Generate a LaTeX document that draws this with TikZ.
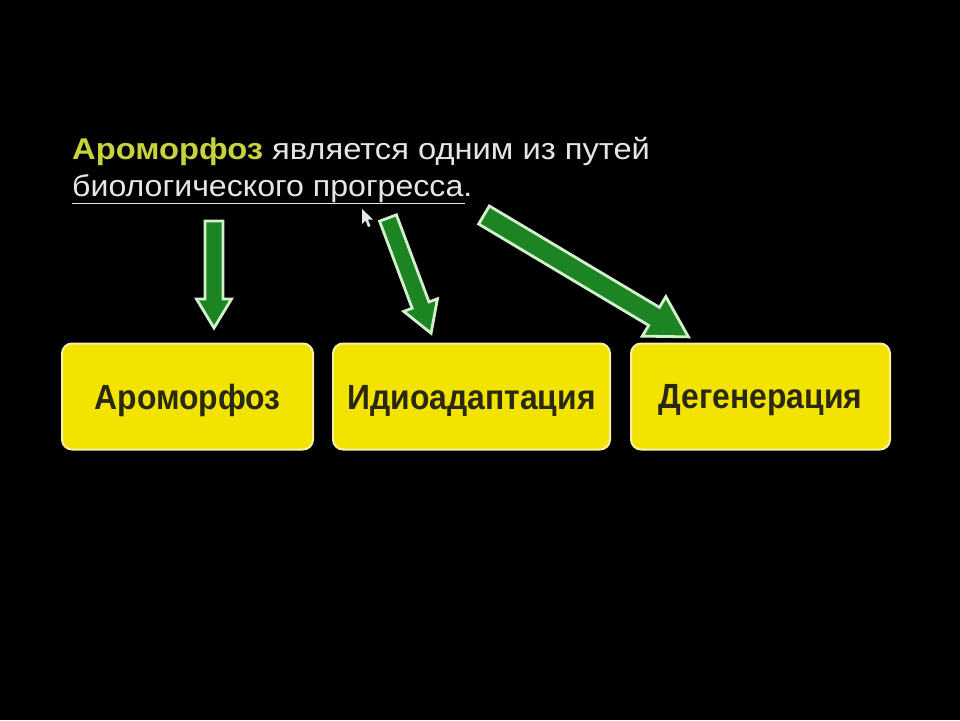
\documentclass[tikz,border=0pt]{standalone}
\usepackage{fontspec}
\setmainfont{Liberation Sans}
\begin{document}
\begin{tikzpicture}[x=1pt,y=-1pt,
  box/.style={draw=boxedge, line width=2pt, fill=boxfill, rounded corners=10pt, minimum height=106pt, inner sep=0pt, text=boxtext, font=\fontsize{35}{40}\selectfont\bfseries},
  blockarrow/.style={fill=arrfill, draw=arredge, line width=2.8pt, line join=miter},
  title/.style={anchor=base west, inner sep=0pt, font=\fontsize{30}{36}\selectfont}]
\definecolor{bg}{HTML}{000000}
\definecolor{boxfill}{HTML}{F2E400}
\definecolor{boxedge}{HTML}{F6F0A8}
\definecolor{boxtext}{HTML}{2A2810}
\definecolor{arrfill}{HTML}{1C8422}
\definecolor{arredge}{HTML}{D2F0CC}
\definecolor{titleyel}{HTML}{C8D23C}
\definecolor{titlewhite}{HTML}{E6E6E6}
\fill[bg] (0,0) rectangle (960,720);
\useasboundingbox (0,0) rectangle (960,720);

% title
\node[title] (t1) at (72,159)
  {\scalebox{1.09}[1]{\textcolor{titleyel}{\bfseries Ароморфоз} \textcolor{titlewhite}{является одним из путей}}};
\node[title, text=titlewhite] (t2) at (72,196)
  {\scalebox{1.07}[1]{биологического прогресса.}};
\coordinate (ul1) at (72,203.5);
\coordinate (ul2) at (465,203.5);
\draw[titlewhite, line width=1.8pt] (ul1) -- (ul2);

% boxes
\node[box, minimum width=251pt] (b1) at (187.5,396.5) {\raisebox{-4pt}[\height][\depth]{\scalebox{0.91}[1]{Ароморфоз}}};
\node[box, minimum width=277pt] (b2) at (471.5,396.5) {\raisebox{-4pt}[\height][\depth]{\scalebox{0.91}[1]{Идиоадаптация}}};
\node[box, minimum width=259pt] (b3) at (760.5,396.5) {\raisebox{-4pt}[\height][\depth]{\scalebox{0.91}[1]{Дегенерация}}};

% block arrows: x, y, angle, length, shaft width, head width, head length
\newcommand{\blockarr}[7]{%
  \begin{scope}[shift={(#1,#2)}, rotate=#3]
    \draw[blockarrow] (0,-#5/2) -- ({#4-#7},-#5/2) -- ({#4-#7},-#6/2) -- (#4,0)
      -- ({#4-#7},#6/2) -- ({#4-#7},#5/2) -- (0,#5/2) -- cycle;
  \end{scope}}
\blockarr{214}{221}{-90}{107}{18}{35}{29}
\blockarr{388}{218}{-69.5}{123}{18}{36}{30}
\blockarr{484}{215}{-30.8}{238}{21}{46}{40}

% cursor
\fill[titlewhite] (362,209) -- (362,224) -- (365.5,220.5) -- (368,227) -- (370.5,226) -- (368,219.5) -- (373,219.5) -- cycle;
\end{tikzpicture}
\end{document}
